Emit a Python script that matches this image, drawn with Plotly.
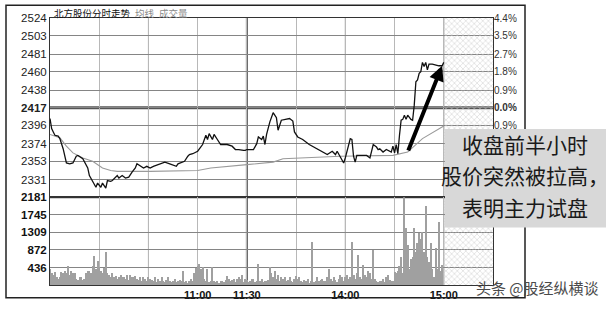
import plotly.graph_objects as go

# ---------------- data ----------------
PREV_CLOSE = 2417

price_minutes = [0, 1, 2, 3, 5, 6, 8, 9, 10, 12, 14, 16, 17, 20, 23, 24, 26, 28, 29, 31,
                 32, 34, 35, 37, 38, 41, 42, 44, 46, 48, 50, 52, 53, 55, 57, 59, 61, 63, 67, 70,
                 73, 75, 77, 78, 81, 82, 84, 85, 87, 88, 90, 93, 95, 96, 97, 99, 100, 102, 104, 108,
                 111, 113, 115, 118, 119,
                 120, 124, 126, 127, 129, 130, 131, 132, 134, 136, 138, 139, 141, 143, 146, 148, 149, 151, 154, 158,
                 163, 166, 169, 172, 174, 175, 177, 179, 180, 181, 183, 184, 185, 186, 187, 189, 193, 195, 197, 199,
                 200, 201, 203, 205, 208, 209, 210, 211, 212, 213, 214, 215, 216, 217, 218, 220, 221, 222, 223, 224,
                 225, 226, 227, 228, 229, 230, 231, 233, 235, 237, 239, 240]
price_values = [2404, 2392, 2388, 2384, 2383, 2380, 2368, 2357, 2351, 2350, 2351, 2359, 2360, 2356, 2345, 2336, 2328, 2322, 2327, 2322,
                2327, 2321, 2330, 2329, 2330, 2336, 2333, 2336, 2333, 2334, 2340, 2345, 2350, 2347, 2345, 2347, 2345, 2347, 2350, 2352,
                2350, 2348, 2347, 2350, 2352, 2353, 2359, 2361, 2362, 2363, 2365, 2373, 2384, 2379, 2386, 2379, 2385, 2379, 2373, 2373,
                2371, 2367, 2367, 2366, 2366,
                2367, 2367, 2374, 2382, 2379, 2383, 2373, 2385, 2400, 2411, 2405, 2390, 2402, 2403, 2404, 2401, 2388, 2382, 2379, 2373,
                2368, 2365, 2361, 2365, 2361, 2365, 2357, 2351, 2357, 2364, 2380, 2379, 2359, 2352, 2360, 2360, 2360, 2357, 2373, 2370,
                2367, 2368, 2364, 2367, 2364, 2371, 2363, 2373, 2362, 2384, 2402, 2403, 2408, 2403, 2408, 2403, 2402, 2420, 2448, 2450,
                2458, 2460, 2471, 2466, 2471, 2462, 2469, 2469, 2468, 2467, 2467, 2471]

avg_minutes = [0, 6, 10, 14, 20, 26, 32, 37, 41, 61, 90, 98, 120, 136, 142, 157, 177, 209, 218, 227, 238, 240]
avg_values = [2385, 2381, 2371, 2363, 2357, 2353, 2345, 2342, 2341, 2341, 2342, 2345, 2349, 2352, 2356, 2357, 2359, 2360, 2364, 2380, 2392, 2395]

volume = [
    380, 300, 250, 320, 180, 150, 200, 320, 280, 350, 300, 460, 250, 330, 300, 280, 150, 120, 200, 180,
    120, 150, 280, 330, 350, 300, 460, 720, 380, 580, 450, 330, 300, 420, 820, 300, 250, 200, 300, 180,
    220, 150, 200, 250, 180, 200, 150, 230, 120, 250, 200, 180, 220, 150, 120, 200, 100, 180, 150, 80,
    200, 150, 120, 100, 180, 60, 150, 80, 200, 100, 60, 120, 180, 90, 60, 100, 150, 60, 80, 120,
    100, 340, 60, 80, 50, 100, 150, 80, 300, 420, 470, 510, 380, 450, 150, 100, 390, 60, 80, 435,
    80, 60, 100, 50, 80, 100, 60, 120, 220, 150, 80, 120, 130, 60, 150, 200, 150, 230, 60, 150,
    120, 60, 100, 150, 130, 60, 80, 510, 100, 150, 60, 80, 100, 120, 435, 300, 200, 330, 150, 230,
    100, 200, 150, 180, 100, 120, 200, 100, 60, 150, 220, 130, 200, 100, 60, 120, 80, 150, 50, 100,
    1065, 60, 100, 200, 80, 120, 150, 100, 80, 200, 390, 150, 100, 200, 120, 60, 150, 230, 180, 100,
    200, 250, 150, 200, 1065, 250, 150, 300, 730, 200, 150, 490, 250, 200, 350, 280, 150, 870, 150, 80,
    60, 100, 80, 150, 60, 200, 250, 120, 80, 100, 320, 300, 330, 460, 680, 300, 2180, 1400, 990, 400,
    630, 700, 1400, 820, 1040, 1280, 1140, 1300, 820, 1960, 700, 560, 1040, 380, 200, 920, 400, 1550, 330, 490,
]
volume_minutes = list(range(len(volume)))

PRICE_TICKS = [2524, 2503, 2481, 2460, 2438, 2417, 2396, 2374, 2353, 2331]
PCT_TICKS = [2524, 2503, 2481, 2460, 2438, 2417, 2396]
PCT_LABELS = ["4.4%", "3.5%", "2.7%", "1.8%", "0.9%", "0.0%", "0.9%"]
VOL_TICKS = [2181, 1745, 1309, 872, 436]
TIME_LABELS = {90: "11:00", 120: "11:30", 180: "14:00", 240: "15:00"}
PRICE_RANGE = [2310, 2524]
VOL_RANGE = [0, 2181]
SESSION_END = 240
AXIS_END = 270

TITLE = "北方股份分时走势"
NOTE_LINES = ["收盘前半小时", "股价突然被拉高，", "表明主力试盘"]
WATERMARK = "头条 @股经纵横谈"

# ---------------- geometry helpers (pixels -> paper) ----------------
W, H = 610, 313
L, R, T, B = 50, 117, 18, 21
PW, PH = W - L - R, H - T - B


def px(x):
    return (x - L) / PW


def py(y):
    return (H - B - y) / PH


VOL_FRAC = 90 / PH

fig = go.Figure()

# hatched after-close region
hatch = dict(shape="x", fgcolor="#c8c8c8", size=4, solidity=0.22, fillmode="replace")
fig.add_trace(go.Scatter(x=[SESSION_END, AXIS_END, AXIS_END, SESSION_END, SESSION_END],
                         y=[PRICE_RANGE[0], PRICE_RANGE[0], PRICE_RANGE[1], PRICE_RANGE[1], PRICE_RANGE[0]],
                         fill="toself", fillcolor="rgba(0,0,0,0)", fillpattern=hatch,
                         mode="none", hoverinfo="skip", xaxis="x", yaxis="y"))
fig.add_trace(go.Scatter(x=[SESSION_END, AXIS_END, AXIS_END, SESSION_END, SESSION_END],
                         y=[VOL_RANGE[0], VOL_RANGE[0], VOL_RANGE[1], VOL_RANGE[1], VOL_RANGE[0]],
                         fill="toself", fillcolor="rgba(0,0,0,0)", fillpattern=hatch,
                         mode="none", hoverinfo="skip", xaxis="x", yaxis="y2"))

# average line
fig.add_trace(go.Scatter(x=avg_minutes, y=avg_values, mode="lines",
                         line=dict(color="#9a9a9a", width=1.1), xaxis="x", yaxis="y"))
# price line (on overlay axis so it draws on top)
fig.add_trace(go.Scatter(x=price_minutes, y=price_values, mode="lines",
                         line=dict(color="#111111", width=1.3), xaxis="x", yaxis="y3"))
# volume
fig.add_trace(go.Bar(x=volume_minutes, y=volume, width=0.65,
                     marker=dict(color="#a0a0a0", line=dict(width=0)), xaxis="x", yaxis="y2"))

grid_minutes = list(range(0, AXIS_END + 1, 30))
label_font = dict(family="Liberation Sans", size=11.5, color="#222")

fig.update_layout(
    width=W, height=H, margin=dict(l=L, r=R, t=T, b=B),
    paper_bgcolor="white", plot_bgcolor="white", showlegend=False, bargap=0,
    xaxis=dict(range=[0, AXIS_END], anchor="y2", tickvals=grid_minutes,
               ticktext=[f"<b>{TIME_LABELS[m]}</b>" if m in TIME_LABELS else "" for m in grid_minutes],
               tickfont=dict(family="Liberation Sans", size=11, color="#111"),
               showgrid=True, gridcolor="#b8b8b8", gridwidth=1, ticks="", zeroline=False,
               showline=True, linecolor="#333", linewidth=1, mirror="all"),
    yaxis=dict(domain=[VOL_FRAC, 1], range=PRICE_RANGE, tickvals=PRICE_TICKS,
               ticktext=[f"<b>{v}</b>" if v == PREV_CLOSE else str(v) for v in PRICE_TICKS],
               tickfont=label_font, showgrid=True, gridcolor="#858585", gridwidth=1,
               ticks="", zeroline=False, showline=True, linecolor="#333", linewidth=1, mirror=True),
    yaxis3=dict(overlaying="y", side="right", range=PRICE_RANGE, tickvals=PCT_TICKS,
                ticktext=[f"<b>{t}</b>" if v == PREV_CLOSE else t for v, t in zip(PCT_TICKS, PCT_LABELS)],
                tickfont=dict(family="Liberation Sans", size=10, color="#333"),
                showgrid=False, ticks="", zeroline=False, showline=False),
    yaxis2=dict(domain=[0, VOL_FRAC], range=VOL_RANGE, tickvals=VOL_TICKS,
                ticktext=[f"<b>{v}</b>" for v in VOL_TICKS],
                tickfont=dict(family="Liberation Sans", size=11.5, color="#111"),
                showgrid=True, gridcolor="#858585", gridwidth=1,
                ticks="", zeroline=False, showline=True, linecolor="#333", linewidth=1, mirror=True),
)

shapes = []
# hourly (darker) vertical lines
for m in grid_minutes:
    if m % 60 == 0 and 0 < m < AXIS_END:
        shapes.append(dict(type="line", xref="x", yref="paper", x0=m, x1=m, y0=0, y1=1,
                           line=dict(color="#5a5a5a" if m == 120 else "#7c7c7c", width=2 if m == 120 else 1),
                           layer="between"))
# previous close line
shapes.append(dict(type="line", xref="paper", yref="y", x0=0, x1=1, y0=PREV_CLOSE, y1=PREV_CLOSE,
                   line=dict(color="#555", width=3), layer="between"))
# price / volume boundary
shapes.append(dict(type="line", xref="paper", yref="y2", x0=0, x1=1, y0=VOL_RANGE[1], y1=VOL_RANGE[1],
                   line=dict(color="#444", width=2), layer="between"))
# outer frame
shapes.append(dict(type="rect", xref="paper", yref="paper", x0=px(6), x1=px(525), y0=py(305), y1=py(5),
                   line=dict(color="#222", width=1.5), fillcolor="rgba(0,0,0,0)", layer="above"))
# note box
shapes.append(dict(type="rect", xref="paper", yref="paper", x0=px(445), x1=px(606), y0=py(233), y1=py(132),
                   line=dict(width=0), fillcolor="#d8d8d8", layer="above"))
fig.update_layout(shapes=shapes)

ann = []
cjk = "Noto Sans CJK SC"
ann.append(dict(xref="paper", yref="paper", x=px(52), y=py(13), xanchor="left", yanchor="middle",
                text=TITLE, showarrow=False, font=dict(family=cjk, size=9.5, color="#111")))
ann.append(dict(xref="paper", yref="paper", x=px(133), y=py(13), xanchor="left", yanchor="middle",
                text="均线", showarrow=False, font=dict(family=cjk, size=9.5, color="#8a8a8a")))
ann.append(dict(xref="paper", yref="paper", x=px(157), y=py(13), xanchor="left", yanchor="middle",
                text="成交量", showarrow=False, font=dict(family=cjk, size=9.5, color="#8a8a8a")))
for line_text, yc in zip(NOTE_LINES, [147, 179, 212]):
    ann.append(dict(xref="paper", yref="paper", x=px(525), y=py(yc), xanchor="center", yanchor="middle",
                    text=line_text, showarrow=False, font=dict(family=cjk, size=21, color="#1a1a1a")))
ann.append(dict(xref="paper", yref="paper", x=px(537), y=py(295), xanchor="center", yanchor="middle",
                text=WATERMARK, showarrow=False, font=dict(family=cjk, size=15, color="#4a4a4a")))

# arrow from the average line where the rally starts to the late price level
ARROW_FROM_MIN, ARROW_TO_MIN = 218, 239
tail_y = avg_values[avg_minutes.index(ARROW_FROM_MIN)]
head_y = price_values[price_minutes.index(ARROW_TO_MIN)]
ann.append(dict(xref="x", yref="y", axref="x", ayref="y", x=ARROW_TO_MIN, y=head_y,
                ax=ARROW_FROM_MIN, ay=tail_y, text="", showarrow=True, arrowhead=2,
                arrowsize=0.75, arrowwidth=4, arrowcolor="#000", standoff=0, startstandoff=0))
fig.update_layout(annotations=ann)

fig.write_html("out.html")
